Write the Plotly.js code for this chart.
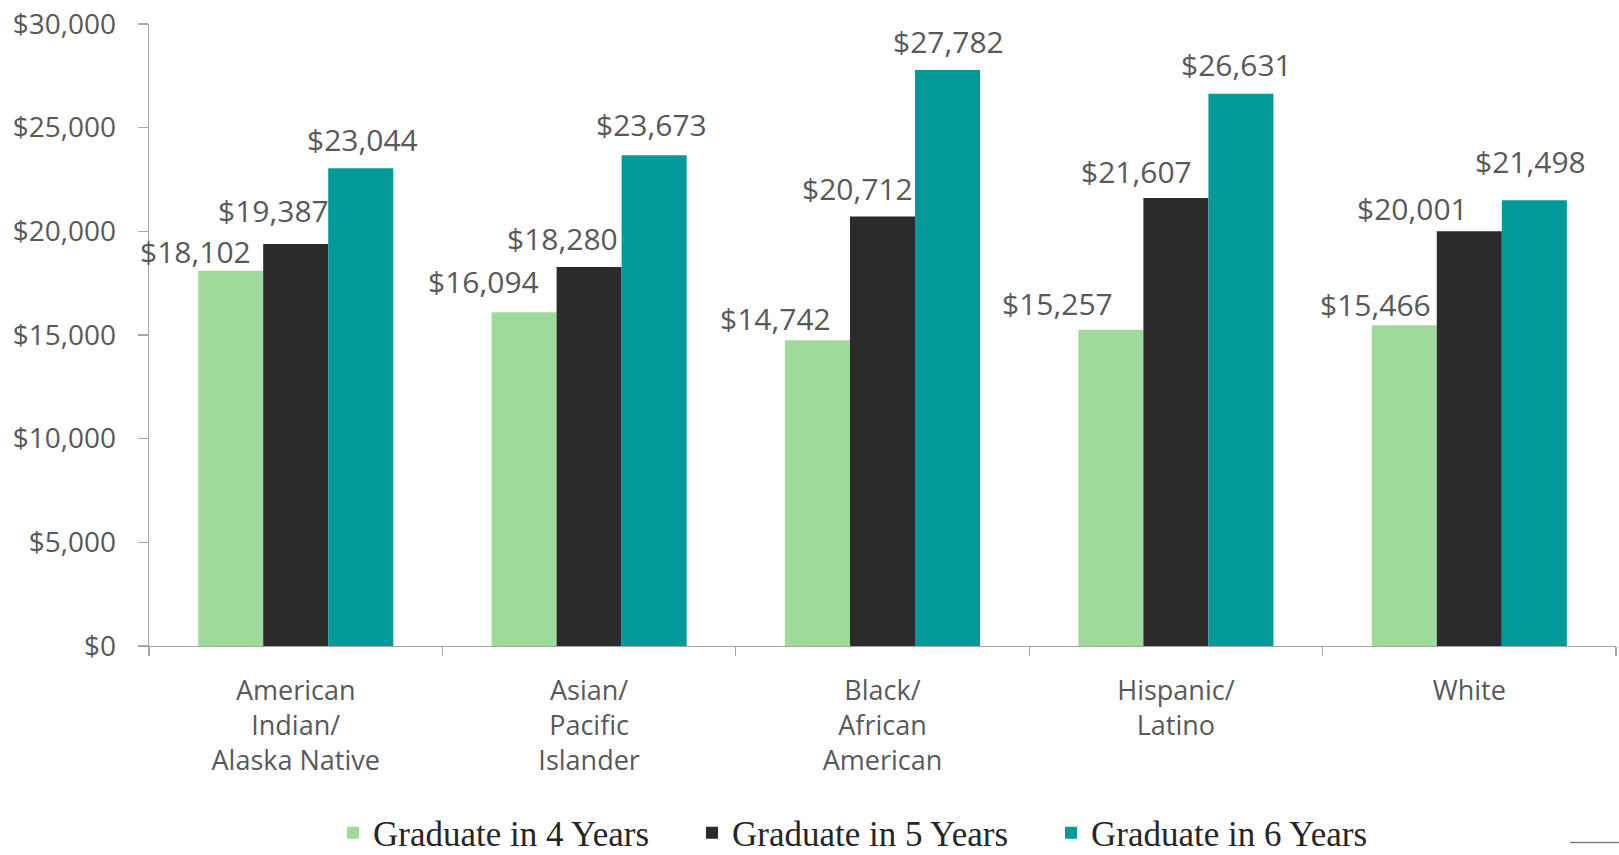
<!DOCTYPE html>
<html>
<head>
<meta charset="utf-8">
<script src="https://cdn.plot.ly/plotly-3.0.1.min.js"></script>
<style>
  html, body { margin: 0; padding: 0; background: #fff; }
  #chart { width: 1619px; height: 855px; }
</style>
</head>
<body>
<div id="chart"></div>
<script>
const categories = [
  "American<br>Indian/<br>Alaska Native",
  "Asian/<br>Pacific<br>Islander",
  "Black/<br>African<br>American",
  "Hispanic/<br>Latino",
  "White"
];
const seriesNames = ["Graduate in 4 Years", "Graduate in 5 Years", "Graduate in 6 Years"];
const grad4 = [18102, 16094, 14742, 15257, 15466];
const grad5 = [19387, 18280, 20712, 21607, 20001];
const grad6 = [23044, 23673, 27782, 26631, 21498];
const tickValues = [0, 5000, 10000, 15000, 20000, 25000, 30000];
const tickLabels = ["$0", "$5,000", "$10,000", "$15,000", "$20,000", "$25,000", "$30,000"];

// styling
const colors = ["#a0da9a", "#2b2b2b", "#009a99"];
const barPx = 65;              // rendered bar width (for label offset)
const labelDx = [               // label nudges (px) relative to bar centre
  [-35, -41, -42, -53, -29],
  [-22, -27, -25, -39, -57],
  [2, -3, 1, -4, -4]
];
const labelDy = [
  [19, 31, 22, 26, 21],
  [34, 28, 28, 27, 23],
  [29, 31, 28, 29, 39]
];

const allSeries = [grad4, grad5, grad6];
const traces = allSeries.map((vals, i) => ({
  type: "bar",
  name: seriesNames[i],
  x: categories,
  y: vals,
  marker: { color: colors[i], line: { width: 0 } },
  hoverinfo: "skip"
}));

const annotations = [];
allSeries.forEach((vals, i) => {
  vals.forEach((v, j) => {
    annotations.push({
      x: categories[j], y: v, xref: "x", yref: "y",
      text: "$" + v.toLocaleString("en-US"),
      showarrow: false,
      xanchor: "center", yanchor: "middle",
      xshift: (i - 1) * barPx + labelDx[i][j],
      yshift: labelDy[i][j],
      font: { family: "Open Sans", size: 30, color: "#595959" }
    });
  });
});

const layout = {
  width: 1619, height: 855,
  paper_bgcolor: "#fff", plot_bgcolor: "#fff",
  margin: { l: 149, r: 3, t: 24, b: 209, pad: 0 },
  barmode: "group",
  bargap: 0.335,
  bargroupgap: 0,
  showlegend: true,
  legend: {
    orientation: "h",
    xref: "container", yref: "container",
    x: 0.2057, xanchor: "left",
    y: 0.0257, yanchor: "middle",
    font: { family: "Liberation Serif", size: 35, color: "#262626" },
    traceorder: "normal",
    itemwidth: 30,
    entrywidthmode: "pixels",
    entrywidth: 314
  },
  xaxis: {
    type: "category",
    range: [-0.5, 4.5],
    automargin: false,
    showline: true, linecolor: "#a6a6a6", linewidth: 1.3,
    ticks: "outside", tickson: "boundaries", ticklen: 9, tickcolor: "#a6a6a6", tickwidth: 1.3,
    showgrid: false, zeroline: false,
    tickfont: { family: "Open Sans", size: 27, color: "#595959" },
    ticklabelstandoff: 20
  },
  yaxis: {
    range: [0, 30000],
    automargin: false,
    tickmode: "array",
    tickvals: tickValues,
    ticktext: tickLabels,
    showline: true, linecolor: "#a6a6a6", linewidth: 1.3,
    ticks: "outside", ticklen: 10, tickcolor: "#a6a6a6", tickwidth: 1.3,
    showgrid: false, zeroline: false,
    tickfont: { family: "Open Sans", size: 28, color: "#595959" },
    ticklabelstandoff: 16
  },
  shapes: [{
    type: "line", xref: "paper", yref: "paper",
    x0: 0.9687, x1: 1.002, y0: -0.316, y1: -0.316,
    line: { color: "#7f7f7f", width: 1.5 }
  }],
  annotations: annotations
};

Plotly.newPlot("chart", traces, layout, { displayModeBar: false, staticPlot: true });
</script>
</body>
</html>
